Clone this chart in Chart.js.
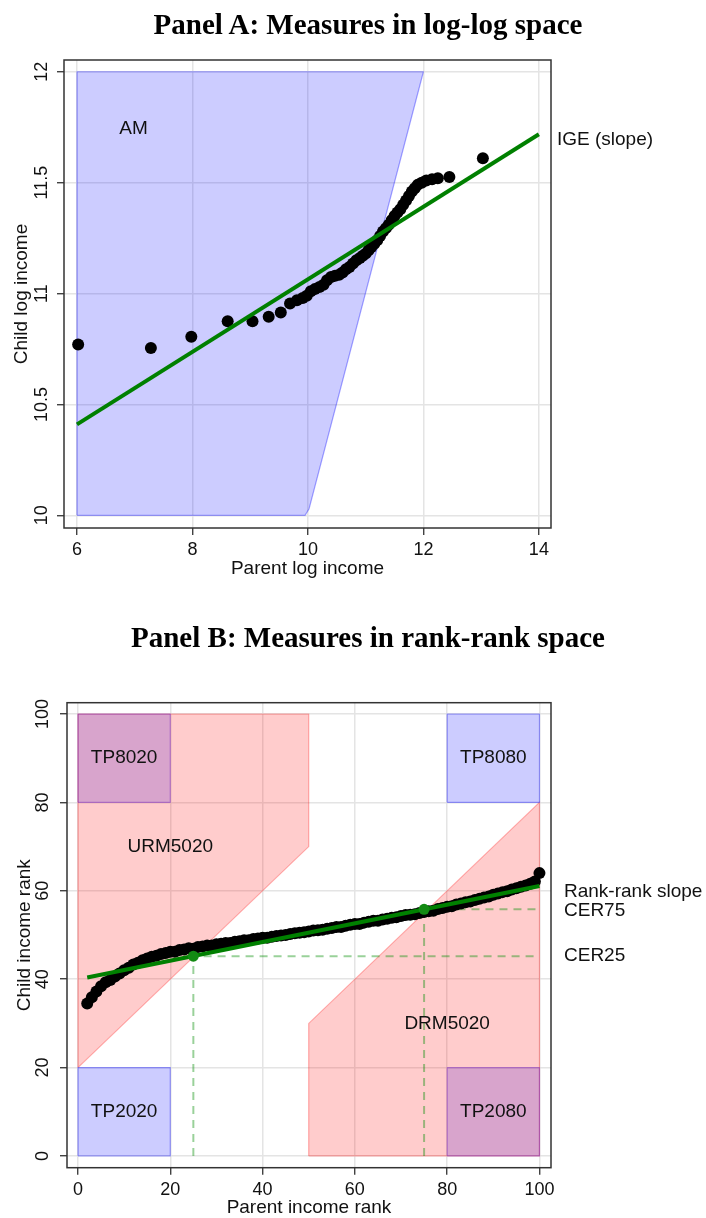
<!DOCTYPE html>
<html><head><meta charset="utf-8">
<script src="https://cdn.jsdelivr.net/npm/chart.js@4.4.1/dist/chart.umd.min.js"></script>
<style>
html,body{margin:0;padding:0;background:#fff;}
#wrap{position:relative;width:706px;height:1218px;overflow:hidden;background:#fff;}
canvas{position:absolute;left:0;}
.title{position:absolute;left:30px;width:676px;text-align:center;font:bold 29px "Liberation Serif","Times New Roman",serif;line-height:29px;color:#000;white-space:nowrap;z-index:2;}
</style></head><body>
<div id="wrap">
<div class="title" style="top:10px">Panel A: Measures in log-log space</div>
<canvas id="cA" width="706" height="600" style="top:0px"></canvas>
<div class="title" style="top:623px">Panel B: Measures in rank-rank space</div>
<canvas id="cB" width="706" height="618" style="top:600px"></canvas>
</div>
<script>
// ---------- Panel A data (log-log) ----------
const parentLogIncome = [6.02, 7.28, 7.98, 8.61, 9.04, 9.32, 9.53, 9.69, 9.81, 9.91, 9.98, 10.05, 10.12, 10.2, 10.27, 10.33, 10.4, 10.47, 10.54, 10.6, 10.66, 10.72, 10.78, 10.84, 10.9, 10.95, 11.0, 11.05, 11.1, 11.15, 11.2, 11.25, 11.3, 11.35, 11.4, 11.45, 11.5, 11.55, 11.6, 11.65, 11.7, 11.75, 11.8, 11.85, 11.9, 11.97, 12.05, 12.15, 12.25, 12.45, 13.03];
const childLogIncome  = [10.77, 10.755, 10.805, 10.875, 10.875, 10.895, 10.915, 10.955, 10.97, 10.98, 10.99, 11.01, 11.02, 11.03, 11.04, 11.06, 11.075, 11.08, 11.085, 11.095, 11.11, 11.12, 11.135, 11.15, 11.16, 11.17, 11.18, 11.195, 11.21, 11.225, 11.24, 11.26, 11.28, 11.295, 11.31, 11.33, 11.35, 11.365, 11.38, 11.4, 11.42, 11.44, 11.46, 11.475, 11.49, 11.5, 11.51, 11.515, 11.52, 11.525, 11.61];
const igeLineX = [6, 14];
const igeLineY = [10.41, 11.718];
const amRegionX = [6, 6, 12, 10.02, 9.95, 6];
const amRegionY = [10, 12, 12, 10.03, 10, 10];
const panelATicksX = [6, 8, 10, 12, 14];
const panelATicksY = [10, 10.5, 11, 11.5, 12];

// ---------- Panel B data (rank-rank) ----------
const parentRank = [2,3,4,5,6,7,8,9,10,11,12,13,14,15,16,17,18,19,20,21,22,23,24,25,26,27,28,29,30,31,32,33,34,35,36,37,38,39,40,41,42,43,44,45,46,47,48,49,50,51,52,53,54,55,56,57,58,59,60,61,62,63,64,65,66,67,68,69,70,71,72,73,74,75,76,77,78,79,80,81,82,83,84,85,86,87,88,89,90,91,92,93,94,95,96,97,98,99,100];
const childRank = [34.5,35.9,37.2,38.4,39.3,39.8,40.6,41.3,42.0,42.6,43.3,43.7,44.3,44.7,45.1,45.3,45.7,45.9,46.2,46.2,46.6,46.7,47.0,46.9,47.3,47.4,47.6,47.6,47.9,48.0,48.2,48.2,48.5,48.6,48.8,48.8,49.1,49.2,49.4,49.4,49.6,49.8,49.9,50.0,50.2,50.4,50.5,50.6,50.8,51.0,51.1,51.2,51.4,51.6,51.8,51.8,52.1,52.3,52.5,52.5,52.8,53.0,53.2,53.2,53.5,53.7,53.9,54.0,54.3,54.5,54.6,54.7,55.0,55.2,55.4,55.5,55.9,56.1,56.4,56.5,56.9,57.1,57.4,57.6,57.9,58.2,58.5,58.7,59.1,59.4,59.7,59.9,60.3,60.6,60.9,61.2,61.6,62.1,64.0];
const rankLineX = [2, 100];
const rankLineY = [40.4, 61.1];
const cerX = [25, 75];
const cerY = [45.2, 55.8];
const urmRegionX = [0, 0, 50, 50, 0];
const urmRegionY = [20, 100, 100, 70, 20];
const drmRegionX = [50, 50, 100, 100, 50];
const drmRegionY = [0, 30, 80, 0, 0];
const tp8020X = [0, 0, 20, 20, 0],     tp8020Y = [80, 100, 100, 80, 80];
const tp8080X = [80, 80, 100, 100, 80], tp8080Y = [80, 100, 100, 80, 80];
const tp2020X = [0, 0, 20, 20, 0],     tp2020Y = [0, 20, 20, 0, 0];
const tp2080X = [80, 80, 100, 100, 80], tp2080Y = [0, 20, 20, 0, 0];
const panelBTicks = [0, 20, 40, 60, 80, 100];

const pts = (xs, ys) => xs.map((x, i) => ({x, y: ys[i]}));

const SANS = '"Liberation Sans", Arial, sans-serif';

const textPlugin = {
  id: 'stataText',
  afterDraw(chart, args, o) {
    const {ctx, chartArea: a, scales: {x, y}} = chart;
    ctx.save();
    ctx.strokeStyle = '#333';
    ctx.lineWidth = 1.5;
    ctx.strokeRect(a.left, a.top, a.right - a.left, a.bottom - a.top);
    ctx.fillStyle = '#111';
    ctx.textAlign = 'center';
    ctx.textBaseline = 'middle';
    ctx.font = '18px ' + SANS;
    o.xTicks.forEach(v => ctx.fillText(String(v), x.getPixelForValue(v), a.bottom + o.xTickOff));
    o.yTicks.forEach(v => {
      ctx.save();
      ctx.translate(a.left - o.yTickOff, y.getPixelForValue(v));
      ctx.rotate(-Math.PI / 2);
      ctx.fillText(String(v), 0, 0);
      ctx.restore();
    });
    ctx.font = '19px ' + SANS;
    ctx.fillText(o.xTitle, (a.left + a.right) / 2, a.bottom + o.xTitleOff);
    ctx.save();
    ctx.translate(a.left - o.yTitleOff, (a.top + a.bottom) / 2);
    ctx.rotate(-Math.PI / 2);
    ctx.fillText(o.yTitle, 0, 0);
    ctx.restore();
    o.labels.forEach(l => {
      ctx.textAlign = l.align || 'center';
      const px = l.dx != null ? a.right + l.dx : x.getPixelForValue(l.x);
      ctx.fillText(l.text, px, y.getPixelForValue(l.y));
    });
    ctx.restore();
  }
};

const gridOpts = {color: '#e4e4e4', lineWidth: 1.5, tickLength: 7, tickColor: '#222', tickWidth: 1.2};

function mkScales(xmin, xmax, ymin, ymax, xt, yt) {
  return {
    x: {type: 'linear', min: xmin, max: xmax, grid: gridOpts, border: {display: false},
        ticks: {display: false}, afterBuildTicks: s => { s.ticks = xt.map(v => ({value: v})); },
        afterFit: s => { s.height = 0; }},
    y: {type: 'linear', min: ymin, max: ymax, grid: gridOpts, border: {display: false},
        ticks: {display: false}, afterBuildTicks: s => { s.ticks = yt.map(v => ({value: v})); },
        afterFit: s => { s.width = 0; }}
  };
}

const poly = (xs, ys, fillC, lineC, order) => ({
  data: pts(xs, ys), fill: 'shape', backgroundColor: fillC, borderColor: lineC,
  borderWidth: 1.2, pointRadius: 0, tension: 0, order
});

// ---------- Panel A ----------
new Chart(document.getElementById('cA'), {
  type: 'line',
  data: {datasets: [
    {data: pts(igeLineX, igeLineY), borderColor: '#008000', borderWidth: 4, pointRadius: 0, fill: false, order: 1},
    {data: pts(parentLogIncome, childLogIncome), showLine: false, pointRadius: 6, pointBackgroundColor: '#000', pointBorderWidth: 0, order: 2},
    poly(amRegionX, amRegionY, 'rgba(0,0,255,0.2)', 'rgba(0,0,255,0.35)', 3)
  ]},
  options: {
    responsive: false, animation: false, devicePixelRatio: 1,
    layout: {padding: {left: 64, top: 60, right: 155, bottom: 72}},
    scales: mkScales(5.775, 14.21, 9.943, 12.053, panelATicksX, panelATicksY),
    plugins: {legend: {display: false}, tooltip: {enabled: false},
      stataText: {xTicks: panelATicksX, yTicks: panelATicksY, xTickOff: 22, yTickOff: 21.5,
        xTitle: 'Parent log income', yTitle: 'Child log income', xTitleOff: 41, yTitleOff: 42,
        labels: [{text: 'AM', x: 6.98, y: 11.744}, {text: 'IGE (slope)', dx: 6, y: 11.692, align: 'left'}]}}
  },
  plugins: [textPlugin]
});

// ---------- Panel B ----------
const dash = (xs, ys, order) => ({data: pts(xs, ys), borderColor: 'rgba(0,140,0,0.4)', borderWidth: 2, borderDash: [8, 6], pointRadius: 0, fill: false, order});
new Chart(document.getElementById('cB'), {
  type: 'line',
  data: {datasets: [
    {data: pts(cerX, cerY), showLine: false, pointRadius: 5.5, pointBackgroundColor: '#138a13', pointBorderWidth: 0, order: 0},
    {data: pts(rankLineX, rankLineY), borderColor: '#008000', borderWidth: 4, pointRadius: 0, fill: false, order: 1},
    {data: pts(parentRank, childRank), showLine: false, pointRadius: 6, pointBackgroundColor: '#000', pointBorderWidth: 0, order: 2},
    dash([cerX[0], cerX[0], 100], [0, cerY[0], cerY[0]], 3),
    dash([cerX[1], cerX[1], 100], [0, cerY[1], cerY[1]], 3),
    poly(tp8020X, tp8020Y, 'rgba(60,0,200,0.2)', 'rgba(90,0,200,0.35)', 5),
    poly(tp2080X, tp2080Y, 'rgba(60,0,200,0.2)', 'rgba(90,0,200,0.35)', 5),
    poly(tp8080X, tp8080Y, 'rgba(0,0,255,0.2)', 'rgba(0,0,255,0.35)', 5),
    poly(tp2020X, tp2020Y, 'rgba(0,0,255,0.2)', 'rgba(0,0,255,0.35)', 5),
    poly(urmRegionX, urmRegionY, 'rgba(255,0,0,0.2)', 'rgba(255,0,0,0.3)', 6),
    poly(drmRegionX, drmRegionY, 'rgba(255,0,0,0.2)', 'rgba(255,0,0,0.3)', 6)
  ]},
  options: {
    responsive: false, animation: false, devicePixelRatio: 1,
    layout: {padding: {left: 67, top: 102.7, right: 155, bottom: 50.3}},
    scales: mkScales(-2.38, 102.5, -2.65, 102.56, panelBTicks, panelBTicks),
    plugins: {legend: {display: false}, tooltip: {enabled: false},
      stataText: {xTicks: panelBTicks, yTicks: panelBTicks, xTickOff: 22.3, yTickOff: 23.5,
        xTitle: 'Parent income rank', yTitle: 'Child income rank', xTitleOff: 40.3, yTitleOff: 42.5,
        labels: [
          {text: 'TP8020', x: 10, y: 90}, {text: 'TP8080', x: 90, y: 90},
          {text: 'TP2020', x: 10, y: 10}, {text: 'TP2080', x: 90, y: 10},
          {text: 'URM5020', x: 20, y: 70}, {text: 'DRM5020', x: 80, y: 30},
          {text: 'Rank-rank slope', dx: 13, y: 59.8, align: 'left'},
          {text: 'CER75', dx: 13, y: 55.5, align: 'left'},
          {text: 'CER25', dx: 13, y: 45.2, align: 'left'}
        ]}}
  },
  plugins: [textPlugin]
});
</script>
</body></html>
